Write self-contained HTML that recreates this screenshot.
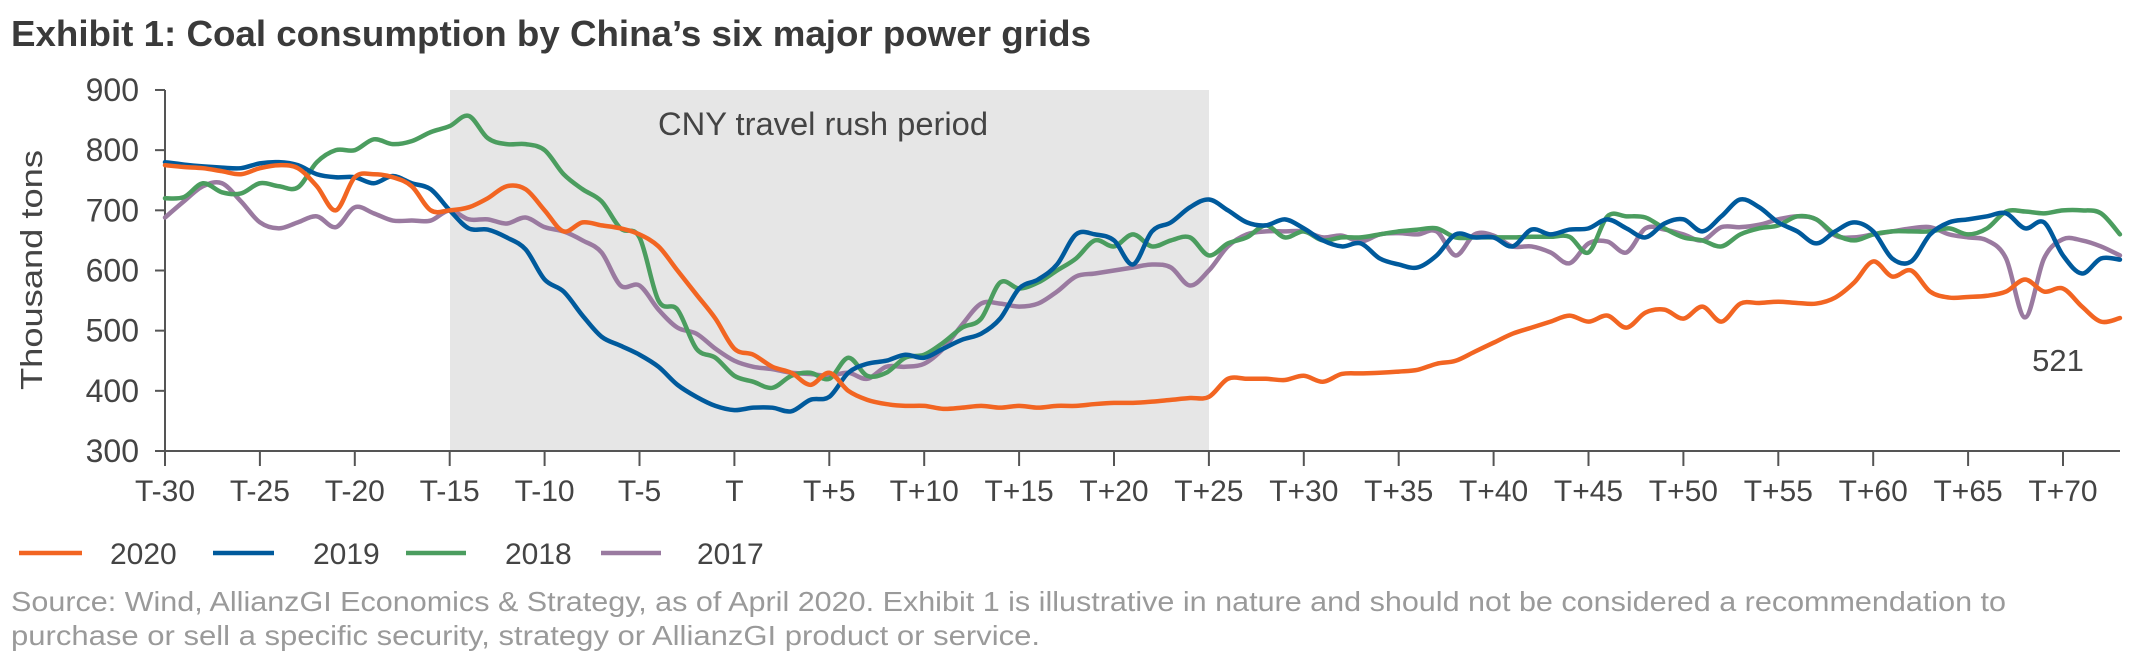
<!DOCTYPE html>
<html><head><meta charset="utf-8"><style>
html,body{margin:0;padding:0;background:#fff;}
svg{display:block;font-family:"Liberation Sans",sans-serif;}
</style></head><body>
<svg id="c" width="2151" height="672" viewBox="0 0 2151 672" xmlns="http://www.w3.org/2000/svg">
<rect x="450" y="90" width="759" height="361" fill="#e6e6e6"/>
<text x="11" y="46" font-size="36" font-weight="bold" fill="#3a3a3a" textLength="1080" lengthAdjust="spacingAndGlyphs">Exhibit 1: Coal consumption by China’s six major power grids</text>
<text x="823" y="135" font-size="32" fill="#444" text-anchor="middle" textLength="330" lengthAdjust="spacingAndGlyphs">CNY travel rush period</text>
<text transform="translate(42,270) rotate(-90)" font-size="31" fill="#444" text-anchor="middle" textLength="240" lengthAdjust="spacingAndGlyphs">Thousand tons</text>
<g id="yl" font-size="32" fill="#444" text-anchor="end"></g>
<g id="xl" font-size="30" fill="#444" text-anchor="middle"></g>
<g id="ax" stroke="#555" stroke-width="2" fill="none"></g>
<g id="ser" fill="none" stroke-width="4.5" stroke-linejoin="round" stroke-linecap="round"></g>
<text x="2058" y="371" font-size="31" fill="#444" text-anchor="middle">521</text>
<g font-size="30" fill="#444">
<line x1="19" y1="553" x2="82" y2="553" stroke="#f26522" stroke-width="4.5"/><text x="110" y="564">2020</text>
<line x1="213" y1="553" x2="274" y2="553" stroke="#005a9c" stroke-width="4.5"/><text x="313" y="564">2019</text>
<line x1="406" y1="553" x2="466" y2="553" stroke="#4b9d5f" stroke-width="4.5"/><text x="505" y="564">2018</text>
<line x1="601" y1="553" x2="661" y2="553" stroke="#9a7aa0" stroke-width="4.5"/><text x="697" y="564">2017</text>
</g>
<text x="11" y="611" font-size="28" fill="#9a9a9a" textLength="1995" lengthAdjust="spacingAndGlyphs">Source: Wind, AllianzGI Economics &amp; Strategy, as of April 2020. Exhibit 1 is illustrative in nature and should not be considered a recommendation to</text>
<text x="11" y="645" font-size="28" fill="#9a9a9a" textLength="1029" lengthAdjust="spacingAndGlyphs">purchase or sell a specific security, strategy or AllianzGI product or service.</text>
</svg>
<script>
var NS="http://www.w3.org/2000/svg";
function X(t){return 165+(t+30)*18.98;}
function Y(v){return 451-(v-300)*0.6017;}
function el(p,n,a,txt){var e=document.createElementNS(NS,n);for(var k in a)e.setAttribute(k,a[k]);if(txt)e.textContent=txt;document.getElementById(p).appendChild(e);}
for(var v=300;v<=900;v+=100){el("yl","text",{x:139,y:Y(v)+11},String(v));el("ax","line",{x1:155,x2:165,y1:Y(v),y2:Y(v)});}
el("ax","line",{x1:165,x2:165,y1:90,y2:451});
el("ax","line",{x1:155,x2:2120,y1:451,y2:451});
for(var t=-30;t<=70;t+=5){el("ax","line",{x1:X(t),x2:X(t),y1:451,y2:466});
var lab=t<0?"T"+t:(t==0?"T":"T+"+t);el("xl","text",{x:X(t),y:501},lab);}
var S={
"#f26522":[775,772,770,765,760,770,775,770,740,700,755,760,755,740,700,700,705,720,740,735,700,665,680,675,670,660,640,600,560,520,470,460,440,430,410,430,400,385,378,375,375,370,372,375,372,375,372,375,375,378,380,380,382,385,388,390,420,420,420,418,425,415,428,429,430,432,435,445,450,465,480,495,505,515,525,515,525,505,530,535,520,540,515,545,546,548,546,545,555,580,615,590,600,565,555,556,558,565,585,565,570,540,515,521],
"#005a9c":[780,776,773,771,770,778,780,775,760,755,755,745,757,745,735,700,670,668,655,635,585,565,525,490,475,460,440,410,390,375,368,372,372,366,385,390,430,445,450,460,455,470,485,495,520,570,585,610,660,660,650,610,665,680,705,718,700,680,675,685,670,650,640,645,620,610,605,625,660,655,655,640,668,660,668,670,685,670,655,678,685,665,690,718,705,680,665,645,665,680,665,620,615,660,680,685,690,695,670,680,625,595,620,618],
"#4b9d5f":[720,722,745,730,728,745,740,738,780,800,800,818,810,815,830,840,857,820,810,810,800,760,735,715,670,655,550,535,470,455,425,415,405,425,430,420,455,425,430,455,460,480,505,520,580,570,580,600,620,650,640,660,640,650,655,625,645,655,675,655,665,650,655,655,660,665,668,670,655,655,655,655,656,656,656,630,690,690,688,670,655,650,640,660,670,675,690,685,660,650,660,665,665,665,670,660,670,698,698,695,700,700,695,660],
"#9a7aa0":[688,715,740,745,715,680,670,680,690,672,705,695,683,683,683,700,685,685,678,688,672,665,650,630,575,575,535,505,495,470,450,440,436,430,428,425,430,420,440,440,445,470,510,545,545,540,545,565,590,595,600,605,610,605,575,600,640,660,665,665,665,655,658,648,660,662,660,665,625,660,658,640,640,630,612,645,648,630,670,668,660,650,672,672,676,685,690,685,658,655,660,665,670,672,660,655,650,620,522,620,652,650,640,625]};
var order=["#9a7aa0","#4b9d5f","#005a9c","#f26522"];
order.forEach(function(c){var a=S[c];var p=a.map(function(v,i){return [X(i-30),Y(v)];});
var d="M"+p[0][0]+","+p[0][1];
for(var i=0;i<p.length-1;i++){var p0=p[i-1]||p[i],p1=p[i],p2=p[i+1],p3=p[i+2]||p2;
d+=" C"+(p1[0]+(p2[0]-p0[0])/6)+","+(p1[1]+(p2[1]-p0[1])/6)+" "+(p2[0]-(p3[0]-p1[0])/6)+","+(p2[1]-(p3[1]-p1[1])/6)+" "+p2[0]+","+p2[1];}
el("ser","path",{d:d,stroke:c});});
</script>
</body></html>
